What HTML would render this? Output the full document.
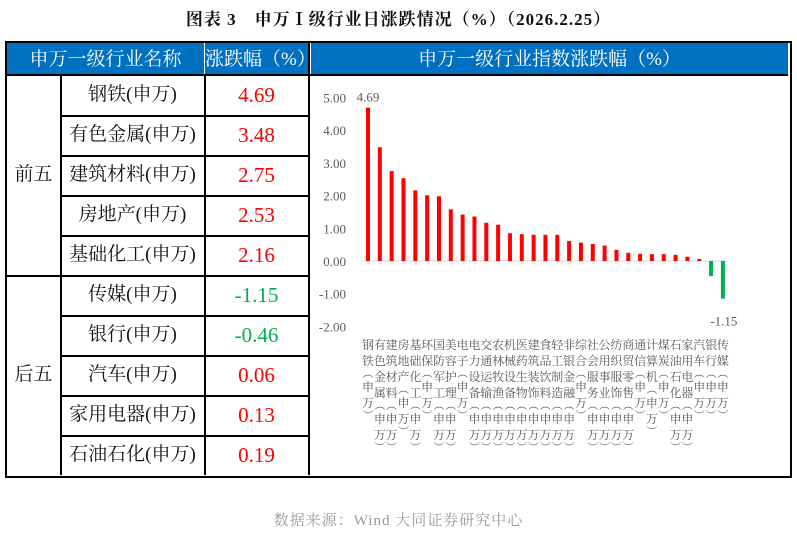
<!DOCTYPE html>
<html><head><meta charset="utf-8">
<style>
body{margin:0;width:797px;height:535px;background:#fff;overflow:hidden;position:relative;font-family:"Liberation Serif","Noto Serif CJK SC",serif;}
.abs{position:absolute;}
#title{left:0;width:797px;top:5px;text-align:center;font-size:17px;font-weight:bold;color:#111;letter-spacing:1px;}
#frame{left:5px;top:41px;width:783px;height:433px;border:2px solid #000;}
.hdr{background:#0070c0;color:#fff;font-size:19px;text-align:center;line-height:33px;top:43px;height:33px;}
.cell{font-size:19px;text-align:center;line-height:40px;height:40px;color:#111;}
.val{font-size:21px;}
.hl{height:1.5px;background:#000;}
.vl{width:1.5px;background:#000;}
.xl{position:absolute;top:337px;width:12px;font-size:12px;color:#595959;text-align:center;}
.xl div{height:16px;line-height:16px;}
.xl div.p{height:10px;line-height:10px;font-size:11px;}
#footer{left:0;width:797px;top:509px;text-align:center;font-size:15px;color:#999;letter-spacing:1px;}
</style></head><body>
<div class="abs" id="title">图表 3　申万Ⅰ级行业日涨跌情况（%）（2026.2.25）</div>
<div class="abs" id="frame"></div>
<div class="abs hdr" style="left:7px;width:197px">申万一级行业名称</div>
<div class="abs hdr" style="left:205px;width:103px">涨跌幅（%）</div>
<div class="abs hdr" style="left:311px;width:477px">申万一级行业指数涨跌幅（%）</div>
<div class="abs" style="left:204px;top:43px;width:1px;height:33px;background:#fff"></div>
<div class="abs hl" style="left:7px;top:74px;width:781px;height:2px"></div>
<div class="abs vl" style="left:308px;top:43px;height:432px;width:2px"></div>
<div class="abs vl" style="left:60px;top:75px;height:400px"></div>
<div class="abs vl" style="left:204px;top:75px;height:400px"></div>
<div id="rows"></div>
<div class="abs cell" style="left:7px;top:155px;width:53px">前五</div>
<div class="abs cell" style="left:7px;top:355px;width:53px">后五</div>
<svg class="abs" id="chart" style="left:311px;top:77px" width="476" height="396"></svg>
<div id="xlabels"></div>
<div class="abs" id="footer">数据来源：Wind 大同证券研究中心</div>
<script>
const tableNames=["钢铁(申万)","有色金属(申万)","建筑材料(申万)","房地产(申万)","基础化工(申万)","传媒(申万)","银行(申万)","汽车(申万)","家用电器(申万)","石油石化(申万)"];
const tableValues=["4.69","3.48","2.75","2.53","2.16","-1.15","-0.46","0.06","0.13","0.19"];
const categories=["钢铁","有色金属","建筑材料","房地产","基础化工","环保","国防军工","美容护理","电子","电力设备","交通运输","农林牧渔","机械设备","医药生物","建筑装饰","食品饮料","轻工制造","非银金融","综合","社会服务","公用事业","纺织服饰","商贸零售","通信","计算机","煤炭","石油石化","家用电器","汽车","银行","传媒"];
const values=[4.69,3.48,2.75,2.53,2.16,2.01,1.98,1.58,1.42,1.36,1.17,1.11,0.85,0.82,0.80,0.80,0.80,0.61,0.56,0.52,0.47,0.34,0.25,0.22,0.21,0.21,0.19,0.13,0.06,-0.46,-1.15];
const yTicks=[5,4,3,2,1,0,-1,-2];

const rows=document.getElementById('rows');
tableNames.forEach((n,i)=>{
  const top=75+i*40;
  const c=document.createElement('div');c.className='abs cell';
  c.style.cssText=`left:61px;top:${top}px;width:143px`;c.textContent=n;
  
  
  rows.appendChild(c);
  const v=document.createElement('div');v.className='abs cell val';
  v.style.cssText=`left:205px;top:${top}px;width:103px;color:${parseFloat(tableValues[i])<0?'#00b050':'#ff0000'}`;v.textContent=tableValues[i];
  
  
  rows.appendChild(v);
  if(i<9){const l=document.createElement('div');l.className='abs hl';
    l.style.cssText=`left:${i==4?7:61}px;top:${top+40}px;width:${i==4?301:247}px`;rows.appendChild(l);}
});

const svg=document.getElementById('chart');const NS='http://www.w3.org/2000/svg';
const ox=311,oy=77;
const y=v=>261-v*32.7-oy;
const x=i=>368+i*11.83-ox;
function el(t,a){const e=document.createElementNS(NS,t);for(const k in a)e.setAttribute(k,a[k]);svg.appendChild(e);return e;}
yTicks.forEach(t=>{const e=el('text',{x:346-ox,y:y(t)+5,'text-anchor':'end','font-size':'13',fill:'#595959'});e.textContent=t.toFixed(2);
  
  });
el('line',{x1:362-ox,x2:729-ox,y1:y(0),y2:y(0),stroke:'#d9d9d9','stroke-width':1});
const xl=document.getElementById('xlabels');
values.forEach((v,i)=>{
  const r=el('rect',{x:x(i)-2,y:Math.min(y(v),y(0)),width:4,height:Math.abs(y(v)-y(0)),fill:v<0?'#00b050':'#ff0000'});
  
  
  const d=document.createElement('div');d.className='xl';
  d.style.left=(x(i)+ox-6)+'px';
  
  
  (categories[i]+'︵申万︶').split('').forEach(ch=>{
    const c=document.createElement('div');c.textContent=ch;
    if(ch==='︵'||ch==='︶')c.className='p';
    d.appendChild(c);
  });
  xl.appendChild(d);
});
const maxI=values.indexOf(Math.max(...values)),minI=values.indexOf(Math.min(...values));
let a=el('text',{x:x(maxI),y:y(values[maxI])-6,'text-anchor':'middle','font-size':'13',fill:'#595959'});a.textContent=values[maxI].toFixed(2);


let b=el('text',{x:x(minI)+1,y:y(values[minI])+27,'text-anchor':'middle','font-size':'13',fill:'#595959'});b.textContent=values[minI].toFixed(2);


</script>
</body></html>
